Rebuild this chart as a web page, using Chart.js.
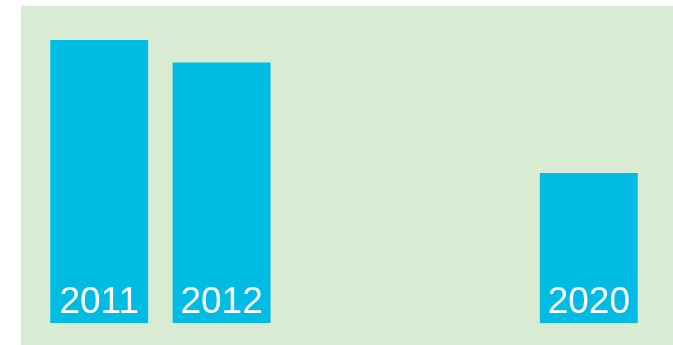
<!DOCTYPE html>
<html>
<head>
<meta charset="utf-8">
<script src="https://cdn.jsdelivr.net/npm/chart.js@4"></script>
<style>
  html, body { margin: 0; padding: 0; background: #ffffff; }
  #wrap { position: absolute; left: 21px; top: 6px; width: 652px; height: 339px; background: #d9ebd3; }
  canvas { display: block; }
</style>
</head>
<body>
<div id="wrap"><canvas id="chart" width="652" height="339"></canvas></div>
<script>
// Data
const categories = ['2011', '2012', '', '', '2020'];
const values = [100, 92, null, null, 53];
const yMax = 112;

// Year labels written inside the bottom of each bar
const barLabels = {
    id: 'barLabels',
    afterDatasetsDraw(chart) {
        const ctx = chart.ctx;
        const meta = chart.getDatasetMeta(0);
        ctx.save();
        ctx.fillStyle = '#ffffff';
        ctx.font = '37px "Liberation Sans", Arial, sans-serif';
        ctx.textAlign = 'center';
        ctx.textBaseline = 'alphabetic';
        meta.data.forEach((bar, i) => {
            if (values[i] == null) return;
            ctx.fillText(categories[i], bar.x, bar.base - 10);
        });
        ctx.restore();
    }
};

new Chart(document.getElementById('chart').getContext('2d'), {
    type: 'bar',
    data: {
        labels: categories,
        datasets: [{
            data: values,
            backgroundColor: '#00bce3',
            borderWidth: 0,
            barPercentage: 0.8,
            categoryPercentage: 1
        }]
    },
    options: {
        responsive: false,
        animation: false,
        layout: { padding: { left: 17, right: 23, top: 0, bottom: 22 } },
        scales: {
            x: { display: false },
            y: { display: false, min: 0, max: yMax }
        },
        plugins: {
            legend: { display: false },
            tooltip: { enabled: false }
        }
    },
    plugins: [barLabels]
});
</script>
</body>
</html>
